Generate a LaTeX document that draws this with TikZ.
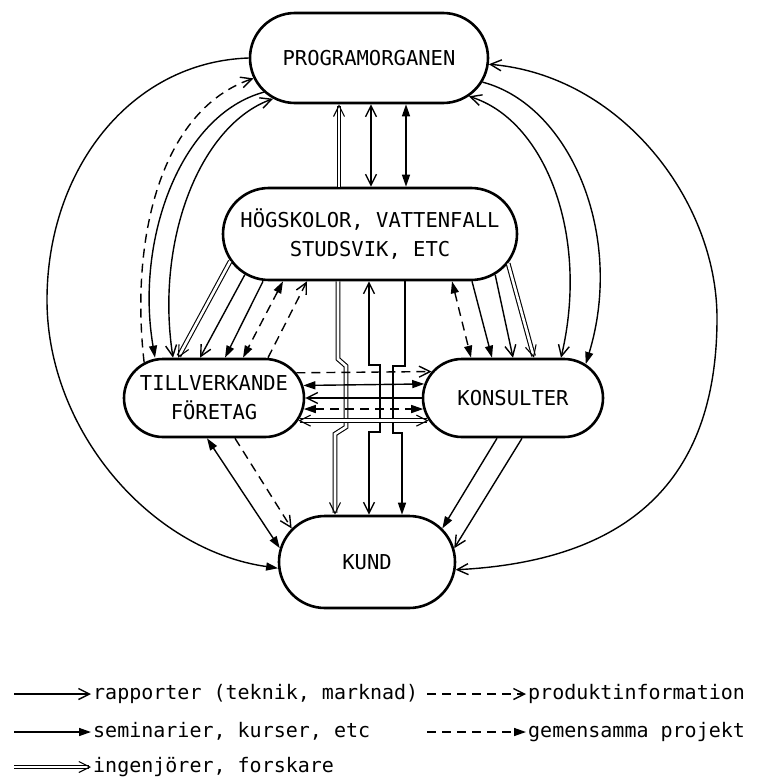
\documentclass[tikz,border=0pt]{standalone}
\usepackage{fontspec}
\setmainfont{DejaVu Sans Mono}
\usetikzlibrary{arrows.meta,shapes.misc}

\tikzset{
  Op/.tip={Straight Barb[length=11pt,width=11pt]},
  Fl/.tip={Triangle[length=12pt,width=8pt]},
  box/.style={draw, rounded rectangle, line width=2.6pt, minimum width=100pt,
    minimum height=78pt, inner xsep=-40pt, inner ysep=0pt, align=center,
    font=\fontsize{20.5}{29}\selectfont},
  lbl/.style={anchor=west, inner sep=2pt, text height=12pt, text depth=1pt,
    font=\fontsize{20}{24}\selectfont},
  con/.style={line width=1.4pt},
  rap/.style={con, -Op},
  sem/.style={con, -Fl},
  ing/.style={con, double, double distance=2.6pt, line width=1.1pt, -Op},
  prod/.style={con, dash pattern=on 9pt off 6pt, -Op},
  proj/.style={con, dash pattern=on 9pt off 6pt, -Fl},
  rapb/.style={rap, Op-Op},
  semb/.style={sem, Fl-Fl},
  ingb/.style={ing, Op-Op},
  projb/.style={proj, Fl-Fl}
}

\begin{document}
\begin{tikzpicture}[x=1pt, y=-1pt]
  \useasboundingbox (0,0) rectangle (756,781);

  \node[box, minimum width=158pt, minimum height=90pt] (prog) at (369,58) {PROGRAMORGANEN};
  \node[box, minimum width=214pt, minimum height=92pt] (hog) at (370,234) {HÖGSKOLOR, VATTENFALL\\STUDSVIK, ETC};
  \node[box] (till) at (214,398) {TILLVERKANDE\\FÖRETAG};
  \node[box] (kons) at (513,398) {KONSULTER};
  \node[box, minimum width=96pt, minimum height=92pt] (kund) at (367,562) {KUND};

  % programorganen -- hogskolor
  \draw[ing] (339,0 |- hog.north) -- (339,0 |- prog.south);
  \draw[rapb] (371,0 |- hog.north) -- (371,0 |- prog.south);
  \draw[semb] (406,0 |- hog.north) -- (406,0 |- prog.south);

  % outer arcs
  \draw[sem] (prog.west) .. controls (130,62) and (47,170) .. (47,300)
    .. controls (47,430) and (150,550) .. (kund.184);
  \draw[rapb] (prog.-3) .. controls (620,75) and (717,200) .. (717,318)
    .. controls (717,460) and (650,560) .. (kund.-5);

  % programorganen -- tillverkande / konsulter
  \draw[prod] (till.153) .. controls (130,240) and (160,110) .. (prog.190);
  \draw[sem] (prog.198) .. controls (180,115) and (135,240) .. ([xshift=-59pt]till.north);
  \draw[rapb] (prog.203) .. controls (200,125) and (155,240) .. ([xshift=-41pt]till.north);
  \draw[sem] (prog.-12) .. controls (570,105) and (625,235) .. (kons.25);
  \draw[rapb] (prog.-21) .. controls (545,120) and (590,235) .. ([xshift=48pt]kons.north);

  % hogskolor -- tillverkande
  \draw[ing] (hog.191) -- ([xshift=-36pt]till.north);
  \draw[rap] (hog.198) -- ([xshift=-14pt]till.north);
  \draw[sem] ([xshift=-107pt]hog.south) -- ([xshift=11pt]till.north);
  \draw[projb] ([xshift=-87pt]hog.south) -- ([xshift=29pt]till.north);
  \draw[prod] ([xshift=54pt]till.north) -- ([xshift=-63pt]hog.south);

  % hogskolor -- konsulter
  \draw[projb] ([xshift=82pt]hog.south) -- ([xshift=-42pt]kons.north);
  \draw[sem] ([xshift=102pt]hog.south) -- ([xshift=-21pt]kons.north);
  \draw[rap] (hog.-18) -- (kons.north);
  \draw[ing] (hog.-12) -- ([xshift=21pt]kons.north);

  % hogskolor -- kund
  \draw[ing] (338,0 |- hog.south) -- (338,359) -- (346,366) -- (346,427) -- (335,434) -- (335,0 |- kund.north);
  \draw[rapb] (369,0 |- hog.south) -- (369,365) -- (380,365) -- (380,432) -- (369,432) -- (369,0 |- kund.north);
  \draw[sem] (405,0 |- hog.south) -- (405,366) -- (393,366) -- (393,433) -- (402,433) -- (402,0 |- kund.north);

  % tillverkande -- konsulter
  \foreach \a/\st in {17.4/prod, 8.5/semb, -7.2/projb, -15/ingb} {
    \pgfmathsetmacro\b{180-\a}
    \draw[\st] (till.\a) -- (kons.\b);
  }
  \draw[rap] (kons.west) -- (till.east);

  % to kund
  \draw[semb] ([xshift=-7pt]till.south) -- (kund.171);
  \draw[prod] ([xshift=21pt]till.south) -- (kund.156);
  \draw[sem] ([xshift=-16pt]kons.south) -- (kund.24);
  \draw[rap] ([xshift=9pt]kons.south) -- (kund.9);

  % legend
  \coordinate (a1) at (14,694);
  \coordinate (a2) at (14,732);
  \coordinate (a3) at (14,767);
  \coordinate (a4) at (427,694);
  \coordinate (a5) at (427,732);
  \node[lbl] (t1) at (91,694) {rapporter (teknik, marknad)};
  \node[lbl] (t2) at (91,732) {seminarier, kurser, etc};
  \node[lbl] (t3) at (91,767) {ingenjörer, forskare};
  \node[lbl] (t4) at (526,694) {produktinformation};
  \node[lbl] (t5) at (526,732) {gemensamma projekt};
  \draw[rap] (a1) -- (t1.west);
  \draw[sem] (a2) -- (t2.west);
  \draw[ing] (a3) -- (t3.west);
  \draw[prod] (a4) -- (t4.west);
  \draw[proj] (a5) -- (t5.west);
\end{tikzpicture}
\end{document}
